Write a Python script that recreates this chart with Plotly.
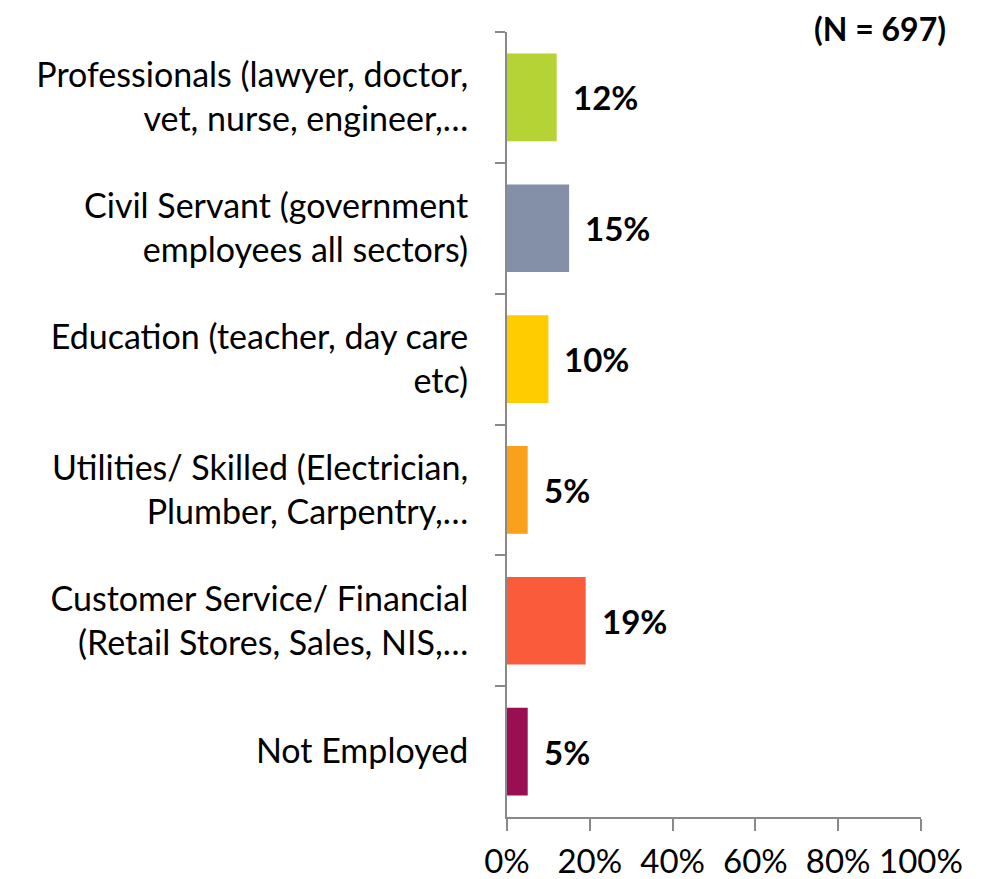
import plotly.graph_objects as go

categories = [
    "Professionals (lawyer, doctor,<br>vet, nurse, engineer,…",
    "Civil Servant (government<br>employees all sectors)",
    "Education (teacher, day care<br>etc)",
    "Utilities/ Skilled (Electrician,<br>Plumber, Carpentry,…",
    "Customer Service/ Financial<br>(Retail Stores, Sales, NIS,…",
    "Not Employed",
]
values = [12, 15, 10, 5, 19, 5]
colors = ["#B5D334", "#8490A8", "#FFCC00", "#F9A11B", "#FA5B3A", "#990F52"]
x_ticks = [0, 20, 40, 60, 80, 100]
x_tick_labels = ["0%", "20%", "40%", "60%", "80%", "100%"]
sample_note = "(N = 697)"

FONT = "Lato"

fig = go.Figure(
    go.Bar(
        x=values,
        y=categories,
        orientation="h",
        marker=dict(color=colors, line=dict(width=0)),
        width=0.67,
        hoverinfo="skip",
    )
)

for v, c in zip(values, categories):
    fig.add_annotation(
        x=v, y=c, text=f"<b>{v}%</b>", showarrow=False,
        xanchor="left", yanchor="middle", xshift=14,
        font=dict(family=FONT, size=33, color="black"),
    )

fig.add_annotation(
    x=1.0, y=1.0, xref="paper", yref="paper", text=f"<b>{sample_note}</b>",
    showarrow=False, xanchor="right", yanchor="middle", xshift=26, yshift=4,
    font=dict(family=FONT, size=32, color="black"), borderpad=0,
)

fig.update_layout(
    width=981, height=879,
    margin=dict(l=499, r=68, t=24, b=70, autoexpand=False),
    plot_bgcolor="white", paper_bgcolor="white",
    showlegend=False,
    font=dict(family=FONT, size=34, color="black"),
    xaxis=dict(
        range=[0, 100], tickvals=x_ticks, ticktext=x_tick_labels,
        showgrid=False, zeroline=False, showline=True, linecolor="#898989", linewidth=2,
        ticks="outside", ticklen=12, tickcolor="#898989", tickwidth=2,
        tickfont=dict(family=FONT, size=33, color="black"),
        ticklabelstandoff=2, automargin=False,
    ),
    yaxis=dict(
        autorange="reversed", type="category",
        showgrid=False, zeroline=False, showline=True, linecolor="#898989", linewidth=2,
        ticks="outside", ticklen=10, tickcolor="#898989", tickwidth=2,
        tickson="boundaries",
        tickfont=dict(family=FONT, size=34, color="black"),
        ticklabelstandoff=30, automargin=False,
    ),
)

fig.write_html("out.html")
